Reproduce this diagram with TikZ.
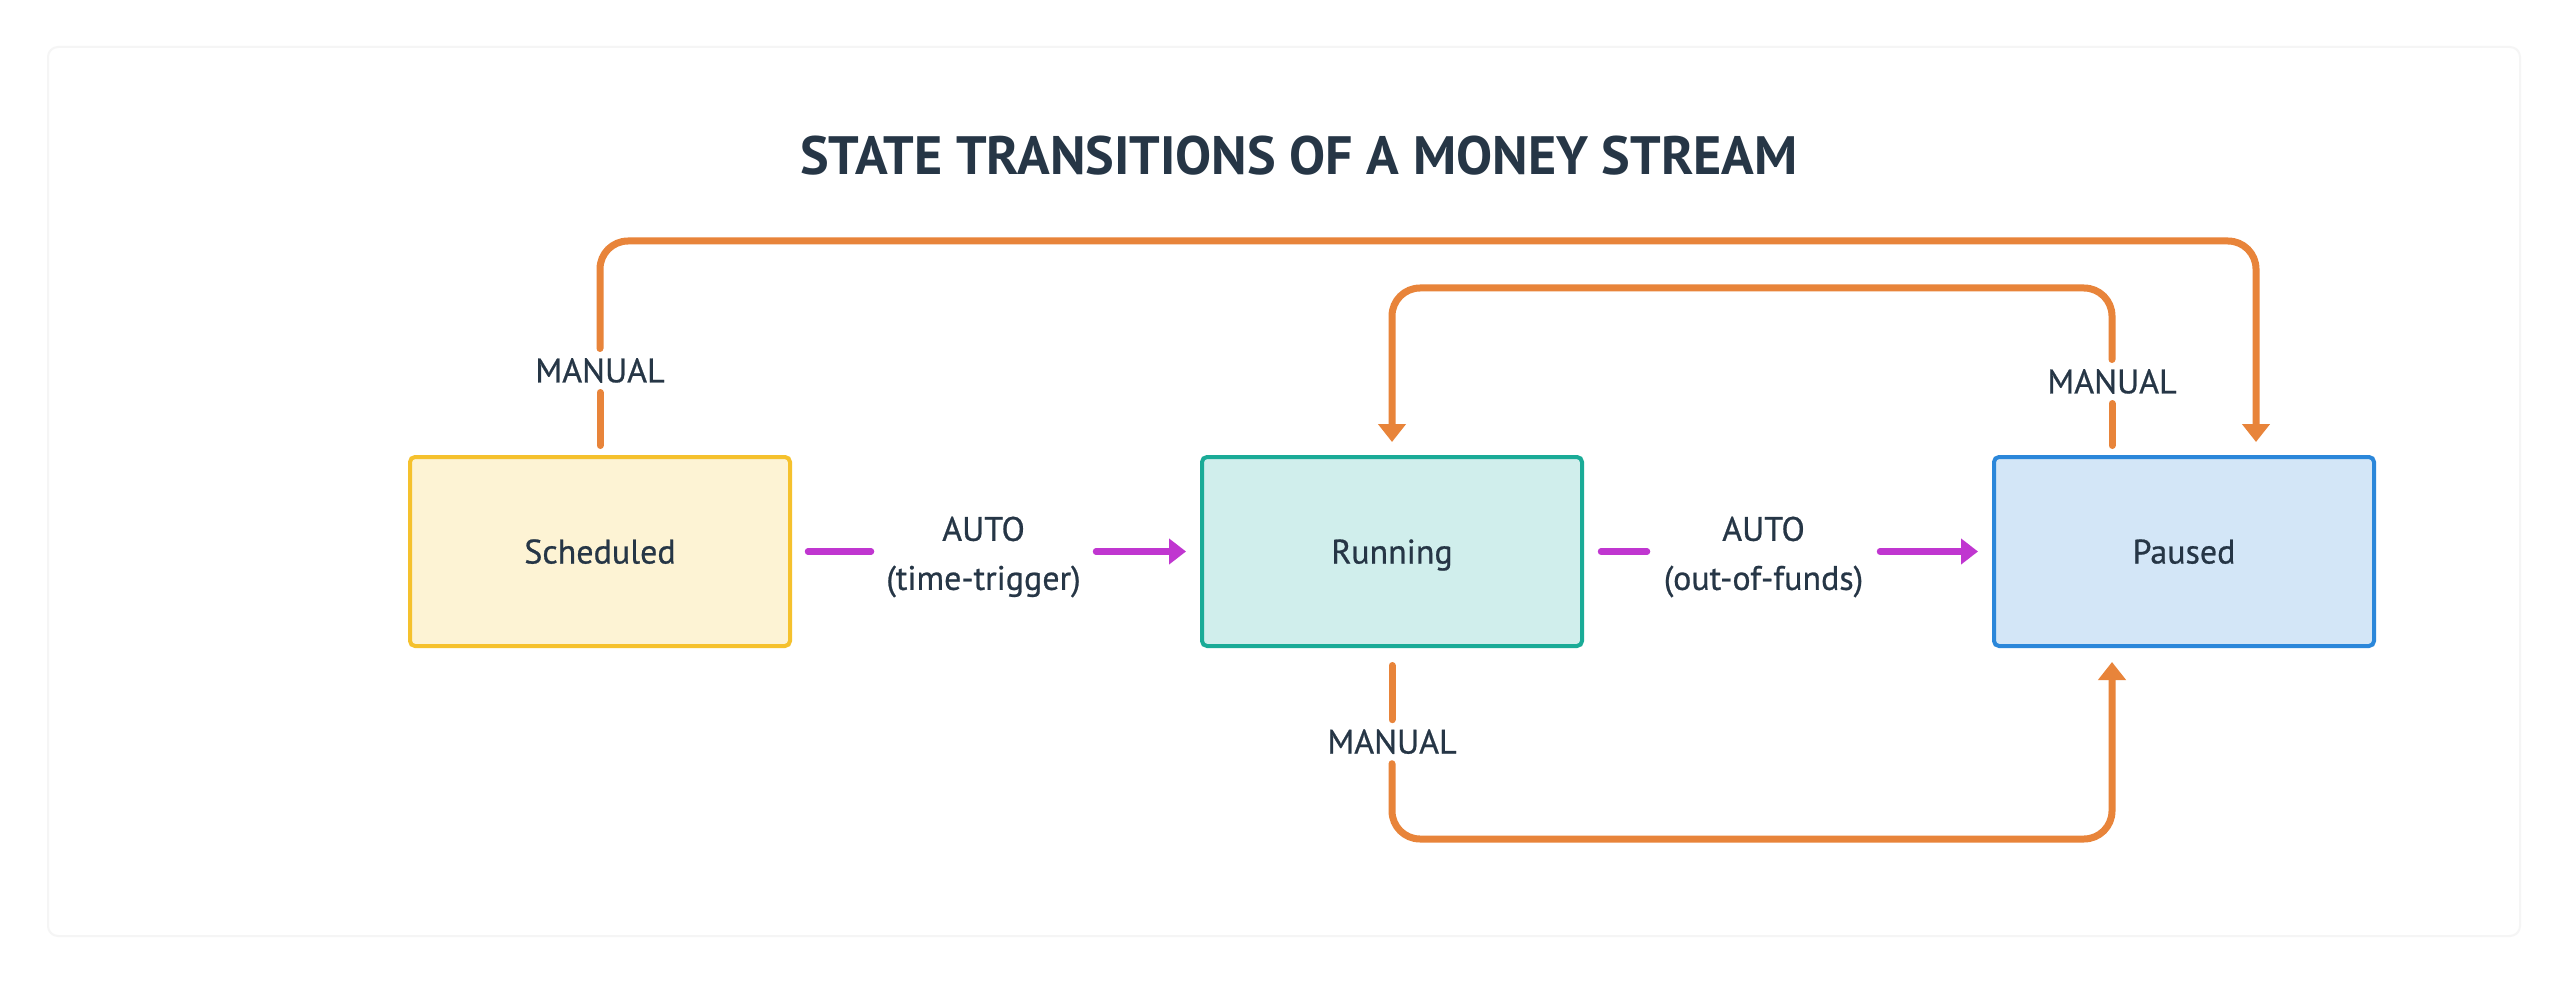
\documentclass[tikz,border=0pt]{standalone}
\usepackage{fontspec}
\setmainfont{PT Sans}
\newfontfamily\medfam{PT Sans}[FakeBold=0.7]
\usetikzlibrary{arrows.meta,calc}
\definecolor{orangeC}{HTML}{E8843A}
\definecolor{purpleC}{HTML}{C036D0}
\definecolor{ink}{HTML}{263646}
\definecolor{schedFill}{HTML}{FDF3D4}
\definecolor{schedLine}{HTML}{F5C12D}
\definecolor{runFill}{HTML}{D0EEEC}
\definecolor{runLine}{HTML}{1AAB97}
\definecolor{pauseFill}{HTML}{D3E6F7}
\definecolor{pauseLine}{HTML}{2B87DA}
\definecolor{cardLine}{HTML}{F5F5F5}
\newcommand\lblfont{\medfam\fontsize{34}{49}\selectfont}
\newcommand\ttlfont{\fontsize{54}{60}\selectfont\bfseries}
\begin{document}
\begin{tikzpicture}[x=1pt,y=-1pt,
  statebox/.style={draw, line width=4pt, rounded corners=5pt, minimum width=380pt,
    minimum height=189pt, inner sep=0pt, font=\lblfont, text=ink,
    text height=24pt, text depth=0pt},
  oline/.style={draw=orangeC, line width=7pt, line cap=round},
  pline/.style={draw=purpleC, line width=6.5pt, line cap=round},
  otip/.style={-{Triangle[length=18pt,width=27pt]}},
  ptip/.style={-{Triangle[length=17pt,width=25pt]}},
  mlabel/.style={inner xsep=4pt, inner ysep=0pt, outer sep=0pt, minimum height=44pt,
    font=\lblfont, text=ink},
  alabel/.style={align=center, font=\lblfont, text=ink, inner sep=0pt, outer sep=0pt},
]
\useasboundingbox[fill=white] (0,0) rectangle (2568,984);
\draw[draw=cardLine, fill=white, line width=2pt, rounded corners=10pt] (48,47) rectangle (2520,936);

\node[font=\ttlfont, text=ink, inner sep=0pt] (title) at (1299,156) {STATE TRANSITIONS OF A MONEY STREAM};

\node[statebox, fill=schedFill, draw=schedLine] (sched) at (600,551.5) {Scheduled};
\node[statebox, fill=runFill, draw=runLine] (run) at (1392,551.5) {Running};
\node[statebox, fill=pauseFill, draw=pauseLine] (paused) at (2184,551.5) {Paused};

\node[alabel, minimum width=225pt] (a1) at (983.5,557) {AUTO\\(time-trigger)};
\node[alabel, minimum width=233pt] (a2) at (1763.5,557) {AUTO\\(out-of-funds)};

\node[mlabel] (m1) at (600,370.5) {MANUAL};
\node[mlabel] (m2) at (2112,381.5) {MANUAL};
\node[mlabel] (m3) at (1392,741.7) {MANUAL};

\coordinate (topA) at (0,241);
\coordinate (topB) at (0,288);
\coordinate (botC) at (0,839);
\coordinate (pA) at ([xshift=72pt]paused.north);
\coordinate (pB) at ([xshift=-72pt]paused.north);
\coordinate (pC) at ([xshift=-72pt]paused.south);

% purple AUTO transitions
\draw[pline, shorten <=16pt] (sched.east) -- (sched.east -| a1.west);
\draw[pline, ptip, shorten >=14pt] (sched.east -| a1.east) -- (run.west);
\draw[pline, shorten <=17pt] (run.east) -- (run.east -| a2.west);
\draw[pline, ptip, shorten >=14pt] (run.east -| a2.east) -- (paused.west);

% Scheduled -> Paused (manual)
\draw[oline, shorten <=9.5pt] (sched.north) -- (m1.south);
\draw[oline, otip, rounded corners=28pt, shorten >=13pt]
  (m1.north) -- (m1.north |- topA) -- (pA |- topA) -- (pA);

% Paused -> Running (manual)
\draw[oline, shorten <=9.5pt] (pB) -- (m2.south);
\draw[oline, otip, rounded corners=28pt, shorten >=13pt]
  (m2.north) -- (m2.north |- topB) -- (run.north |- topB) -- (run.north);

% Running -> Paused (manual)
\draw[oline, shorten <=17.5pt] (run.south) -- (m3.north);
\draw[oline, otip, rounded corners=28pt, shorten >=14pt]
  (m3.south) -- (m3.south |- botC) -- (pC |- botC) -- (pC);
\end{tikzpicture}
\end{document}
